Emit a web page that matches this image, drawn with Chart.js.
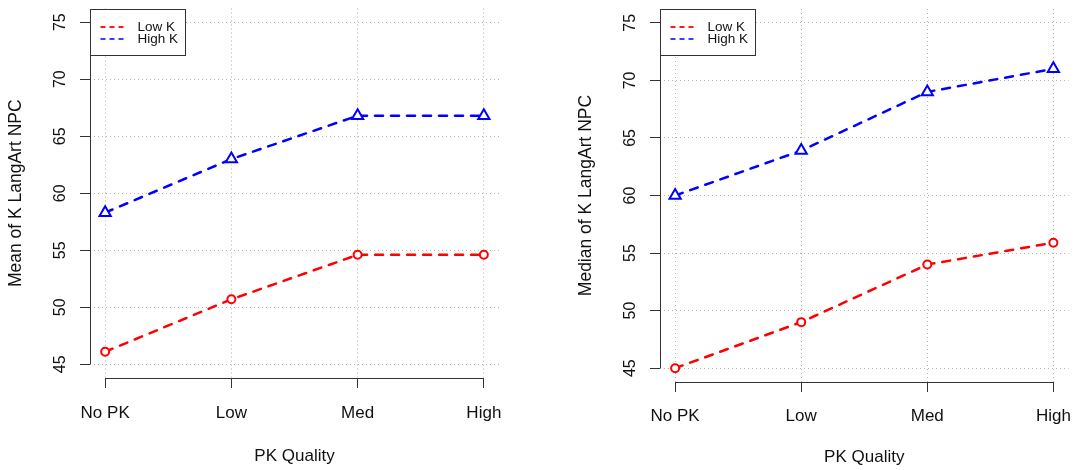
<!DOCTYPE html>
<html>
<head>
<meta charset="utf-8">
<title>K LangArt NPC by PK Quality</title>
<script src="https://cdn.jsdelivr.net/npm/chart.js@4.4.1/dist/chart.umd.min.js"></script>
<style>
  html, body { margin: 0; padding: 0; background: #fff; }
  #wrap { position: relative; width: 1077px; height: 470px; }
  canvas { position: absolute; top: 0; }
  #meanChart { left: 0; }
  #medianChart { left: 540px; }
</style>
</head>
<body>
<div id="wrap">
  <canvas id="meanChart" width="540" height="470"></canvas>
  <canvas id="medianChart" width="537" height="470"></canvas>
</div>
<script>
// x categories and y tick values shared by both panels
const categories = ['No PK', 'Low', 'Med', 'High'];
const yTicks = [45, 50, 55, 60, 65, 70, 75];
const seriesNames = ['Low K', 'High K'];
const seriesColors = ['#ff0000', '#0000ff'];
const legendColors = ['#ff1a1a', '#3d3dff'];

// left panel: mean score
const meanLowK = [46.1, 50.7, 54.6, 54.6];
const meanHighK = [58.3, 63.0, 66.8, 66.8];

// right panel: median score
const medianLowK = [45.0, 49.0, 54.0, 55.9];
const medianHighK = [60.0, 63.9, 69.0, 71.0];

const FONT = "'Liberation Sans', Arial, sans-serif";
const INK = '#111';

function toPoints(values) {
  return values.map((v, i) => ({ x: i + 1, y: v }));
}

// R-style axes: the axis line only runs from first to last tick, plus a boxed legend
const rAxes = {
  id: 'rAxes',
  afterDraw(chart) {
    const { ctx, chartArea, scales: { x, y } } = chart;
    const left = Math.round(chartArea.left) + 0.5;
    const bottom = Math.round(chartArea.bottom) + 0.5;

    ctx.save();
    ctx.strokeStyle = '#333';
    ctx.lineWidth = 1;
    ctx.setLineDash([]);
    ctx.beginPath();
    ctx.moveTo(left, y.getPixelForValue(yTicks[0]));
    ctx.lineTo(left, y.getPixelForValue(yTicks[yTicks.length - 1]));
    ctx.moveTo(x.getPixelForValue(1), bottom);
    ctx.lineTo(x.getPixelForValue(categories.length), bottom);
    ctx.stroke();

    // legend box in the top-left corner of the plot
    const bx = left, by = Math.round(chartArea.top) + 0.5;
    ctx.fillStyle = '#fff';
    ctx.fillRect(bx, by, 95, 46);
    ctx.strokeRect(bx, by, 95, 46);

    ctx.font = '13.5px ' + FONT;
    ctx.textBaseline = 'middle';
    ctx.textAlign = 'left';
    seriesNames.forEach((name, i) => {
      const ry = Math.round(by + 17 + i * 12.5);
      ctx.strokeStyle = legendColors[i];
      ctx.lineWidth = 2;
      ctx.setLineDash([5, 4]);
      ctx.beginPath();
      ctx.moveTo(bx + 10, ry);
      ctx.lineTo(bx + 36, ry);
      ctx.stroke();
      ctx.fillStyle = INK;
      ctx.fillText(name, bx + 47, ry);
    });
    ctx.restore();
  }
};

function makePanel(canvasId, yTitle, lowK, highK, layout) {
  const canvas = document.getElementById(canvasId);
  const gridOpts = {
    color: '#b4b4b4',
    lineWidth: 1,
    drawTicks: true,
    tickLength: 10,
    tickColor: '#333',
    tickWidth: 1,
    tickBorderDash: []
  };
  const lineOpts = {
    borderWidth: 2.5,
    borderDash: [8, 8],
    borderCapStyle: 'round',
    tension: 0,
    pointBorderWidth: 2,
    pointBackgroundColor: '#fff'
  };

  return new Chart(canvas, {
    type: 'line',
    data: {
      datasets: [
        Object.assign({
          label: seriesNames[0],
          data: toPoints(lowK),
          borderColor: seriesColors[0],
          pointBorderColor: seriesColors[0],
          pointStyle: 'circle',
          pointRadius: 4
        }, lineOpts),
        Object.assign({
          label: seriesNames[1],
          data: toPoints(highK),
          borderColor: seriesColors[1],
          pointBorderColor: seriesColors[1],
          pointStyle: 'triangle',
          pointRadius: 6.5
        }, lineOpts)
      ]
    },
    options: {
      responsive: false,
      animation: false,
      layout: { padding: { left: 0, top: layout.top, right: layout.right, bottom: 0 } },
      plugins: {
        legend: { display: false },
        tooltip: { enabled: false }
      },
      scales: {
        x: {
          type: 'linear',
          min: 0.88,
          max: 4.12,
          afterBuildTicks: (s) => { s.ticks = categories.map((c, i) => ({ value: i + 1 })); },
          afterFit: (s) => {
            s.height = layout.xHeight;
            s.paddingLeft = 0;
            s.paddingRight = 0;
          },
          ticks: {
            autoSkip: false,
            maxRotation: 0,
            padding: layout.xTickPad,
            color: INK,
            font: { family: FONT, size: 17 },
            callback: (v) => categories[v - 1]
          },
          grid: gridOpts,
          border: { display: false, dash: [1, 3] },
          title: {
            display: true,
            text: 'PK Quality',
            color: INK,
            font: { family: FONT, size: 17 },
            padding: { top: 0, bottom: layout.xTitlePad }
          }
        },
        y: {
          type: 'linear',
          min: 43.8,
          max: 76.2,
          afterBuildTicks: (s) => { s.ticks = yTicks.map((v) => ({ value: v })); },
          afterFit: (s) => {
            s.width = layout.yWidth;
            s.paddingTop = 0;
            s.paddingBottom = 0;
          },
          ticks: {
            autoSkip: false,
            minRotation: 90,
            maxRotation: 90,
            crossAlign: 'center',
            padding: 11,
            color: INK,
            font: { family: FONT, size: 16 }
          },
          grid: gridOpts,
          border: { display: false, dash: [1, 3] },
          title: {
            display: true,
            text: yTitle,
            color: INK,
            font: { family: FONT, size: 17.5 },
            padding: { top: layout.yTitlePad, bottom: 0 }
          }
        }
      }
    },
    plugins: [rAxes]
  });
}

makePanel('meanChart', 'Mean of K LangArt NPC', meanLowK, meanHighK,
  { top: 8, right: 41, xHeight: 92, yWidth: 90, xTickPad: 15, xTitlePad: 3, yTitlePad: 6 });

makePanel('medianChart', 'Median of K LangArt NPC', medianLowK, medianHighK,
  { top: 9, right: 6, xHeight: 88, yWidth: 120, xTickPad: 14, xTitlePad: 2, yTitlePad: 36 });
</script>
</body>
</html>
